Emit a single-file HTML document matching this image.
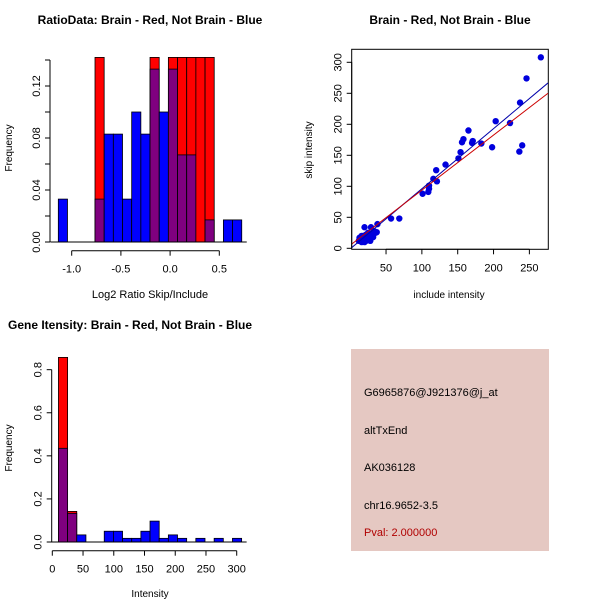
<!DOCTYPE html>
<html><head><meta charset="utf-8"><style>
html,body{margin:0;padding:0;background:#fff}
svg{display:block;font-family:"Liberation Sans",sans-serif}
</style></head><body>
<svg id="chart" width="600" height="600" viewBox="0 0 600 600" xmlns="http://www.w3.org/2000/svg">
<rect width="600" height="600" fill="#fff"/>
<g id="p1"></g>
<g id="p2"></g>
<g id="p3"></g>
<g id="p4">
<rect x="351" y="349" width="198" height="202" fill="#E5C8C2"/>
<text x="364" y="396" font-size="11">G6965876@J921376@j_at</text>
<text x="364" y="434" font-size="11">altTxEnd</text>
<text x="364" y="471" font-size="11">AK036128</text>
<text x="364" y="509" font-size="11">chr16.9652-3.5</text>
<text x="364" y="536" font-size="11" fill="#B00000">Pval: 2.000000</text>
</g>
</svg>
<script>
// ---- Panel 1 data
const ratioBlue = [0.033,0,0,0,0.033,0.083,0.083,0.033,0.1,0.083,0.133,0.1,0.133,0.067,0.067,0,0.017,0,0.017,0.017];
const ratioRed  = [0,0,0,0,0.142,0,0,0,0,0,0.142,0,0.142,0.142,0.142,0.142,0.142,0,0,0];
const ratioBinStart = -1.136, ratioBinEnd = 0.728;
const ratioXTicks = [-1.0,-0.5,0.0,0.5];
const ratioXTickLabels = ["-1.0","-0.5","0.0","0.5"];
const ratioYTicks = [0,0.02,0.04,0.06,0.08,0.10,0.12,0.14];
const ratioYTickLabels = ["0.00","","0.04","","0.08","","0.12",""];
// ---- Panel 2 data
const includeInt = [266,246,237,203,223,165,158,156,171,170,183,198,240,236,154,151,133,120,116,121,110,110,109,101,68.5,57,38,37,20,29,12,14,15,16,18,18,20,22,22,24,25,25,27,28,28,30,32,33,35,20,16,13];
const skipInt    = [308,274,235,205,202,190,176,171,173,170,169,163,166,156,155,145,135,126,112,108,101,96,91,88,48,48,39,26,34,34,12,15,18,10,14,20,16,22,12,18,14,25,20,12,16,22,18,28,25,10,20,17];
const fitBlue = [-1, 0.97];
const fitRed = [5, 0.888];
const scatXTicks = [50,100,150,200,250];
const scatYTicks = [0,50,100,150,200,250,300];
// ---- Panel 3 data
const intBlue = [0.435,0.133,0.033,0,0,0.05,0.05,0.017,0.017,0.05,0.097,0.017,0.033,0.017,0,0.017,0,0.017,0,0.017];
const intRed  = [0.857,0.142,0,0,0,0,0,0,0,0,0,0,0,0,0,0,0,0,0,0];
const intBinStart = 10, intBinEnd = 308;
const intXTicks = [0,50,100,150,200,250,300];
const intYTicks = [0,0.2,0.4,0.6,0.8];
const intYTickLabels = ["0.0","0.2","0.4","0.6","0.8"];

const NS="http://www.w3.org/2000/svg";
function mk(parent,tag,attrs,txt){const e=document.createElementNS(NS,tag);for(const k in attrs)e.setAttribute(k,attrs[k]);if(txt!==undefined)e.textContent=txt;parent.appendChild(e);return e;}

function hist(g,blue,red,b0,b1,sx,sy,name){
  const n=blue.length,w=(b1-b0)/n;
  for(let i=0;i<n;i++){
    const x0=sx(b0+i*w),x1=sx(b0+(i+1)*w);
    const b=blue[i],r=red[i];const hi=Math.max(b,r),lo=Math.min(b,r);
    if(hi>0){
      const r1=mk(g,'rect',{x:x0,y:sy(hi),width:x1-x0,height:sy(0)-sy(hi),fill:r>b?'#FF0000':'#0000FF',stroke:'#000','stroke-width':0.8});
      
      
    }
    if(lo>0){
      const r2=mk(g,'rect',{x:x0,y:sy(lo),width:x1-x0,height:sy(0)-sy(lo),fill:'#7F007F',stroke:'#000','stroke-width':0.8});
      
      
    }
  }
  const base=mk(g,'line',{x1:sx(b0)-8,x2:sx(b1)+5,y1:sy(0),y2:sy(0),stroke:'#000'});
  
  
}
function yAxis(g,x,ticks,labels,sy,name){
  const l=mk(g,'line',{x1:x,x2:x,y1:sy(ticks[0]),y2:sy(ticks[ticks.length-1]),stroke:'#000'});
  
  
  ticks.forEach((t,i)=>{
    mk(g,'line',{x1:x-5,x2:x,y1:sy(t),y2:sy(t),stroke:'#000'});
    if(labels[i]){const tx=mk(g,'text',{x:x-10,y:sy(t),'font-size':11,'text-anchor':'middle',transform:`rotate(-90 ${x-10} ${sy(t)})`},labels[i]);
      
      }
  });
}
function xAxis(g,y,ticks,labels,sx,name){
  const l=mk(g,'line',{x1:sx(ticks[0]),x2:sx(ticks[ticks.length-1]),y1:y,y2:y,stroke:'#000'});
  
  
  ticks.forEach((t,i)=>{
    mk(g,'line',{x1:sx(t),x2:sx(t),y1:y,y2:y+5,stroke:'#000'});
    const tx=mk(g,'text',{x:sx(t),y:y+22,'font-size':11,'text-anchor':'middle'},labels[i]);
    
    
  });
}
function label(g,x,y,txt,opts,name){const t=mk(g,'text',Object.assign({x:x,y:y,'font-size':11,'text-anchor':'middle'},opts||{}),txt);
  
  return t;}

// Panel 1
(function(){
  const g=document.getElementById('p1');
  const sx=v=>71.7+(v+1)*98.4, sy=v=>242-v*1300;
  hist(g,ratioBlue,ratioRed,ratioBinStart,ratioBinEnd,sx,sy,'ratio');
  yAxis(g,50,ratioYTicks,ratioYTickLabels,sy,'ratio-y-axis');
  xAxis(g,250.7,ratioXTicks,ratioXTickLabels,sx,'ratio-x-axis');
  label(g,150,24,'RatioData: Brain - Red, Not Brain - Blue',{'font-weight':'bold','font-size':12},'ratio-title');
  label(g,150,298,'Log2 Ratio Skip/Include',{},'ratio-x-title');
  label(g,12,148,'Frequency',{transform:'rotate(-90 12 148)','font-size':10},'ratio-y-title');
})();
// Panel 2
(function(){
  const g=document.getElementById('p2');
  const sx=v=>350.2+v*0.7167, sy=v=>248.3-v*0.62;
  mk(g,'rect',{x:351.7,y:49.3,width:196.6,height:200,fill:'none',stroke:'#000'});
  const cp=mk(g,'clipPath',{id:'c2'});mk(cp,'rect',{x:351.7,y:49.3,width:196.6,height:200});
  includeInt.forEach((v,i)=>{
    const c=mk(g,'circle',{cx:sx(v),cy:sy(skipInt[i]),r:3.2,fill:'#0000DD'});
    
    
  });
  [[fitBlue,'#0000AA','blue-fit-line'],[fitRed,'#CC0000','red-fit-line']].forEach(([f,col,nm])=>{
    const l=mk(g,'line',{x1:sx(2),y1:sy(f[0]+f[1]*2),x2:sx(276),y2:sy(f[0]+f[1]*276),stroke:col,'stroke-width':1,'clip-path':'url(#c2)'});
    
    
  });
  yAxis(g,351.7,scatYTicks,scatYTicks.map(String),sy,'scatter-y-axis');
  xAxis(g,249.3,scatXTicks,scatXTicks.map(String),sx,'scatter-x-axis');
  label(g,450,24,'Brain - Red, Not Brain - Blue',{'font-weight':'bold','font-size':12},'scatter-title');
  label(g,449,298,'include intensity',{'font-size':10},'scatter-x-title');
  label(g,312,150,'skip intensity',{transform:'rotate(-90 312 150)','font-size':10},'scatter-y-title');
})();
// Panel 3
(function(){
  const g=document.getElementById('p3');
  const sx=v=>52.3+v*0.6147, sy=v=>542-v*215.4;
  hist(g,intBlue,intRed,intBinStart,intBinEnd,sx,sy,'intensity');
  yAxis(g,51.7,intYTicks,intYTickLabels,sy,'intensity-y-axis');
  xAxis(g,550.7,intXTicks,intXTicks.map(String),sx,'intensity-x-axis');
  label(g,8,329,'Gene Itensity: Brain - Red, Not Brain - Blue',{'font-weight':'bold','font-size':12,'text-anchor':'start'},'intensity-title');
  label(g,150,597,'Intensity',{'font-size':10},'intensity-x-title');
  label(g,12,448,'Frequency',{transform:'rotate(-90 12 448)','font-size':10},'intensity-y-title');
})();
</script>
</body></html>
